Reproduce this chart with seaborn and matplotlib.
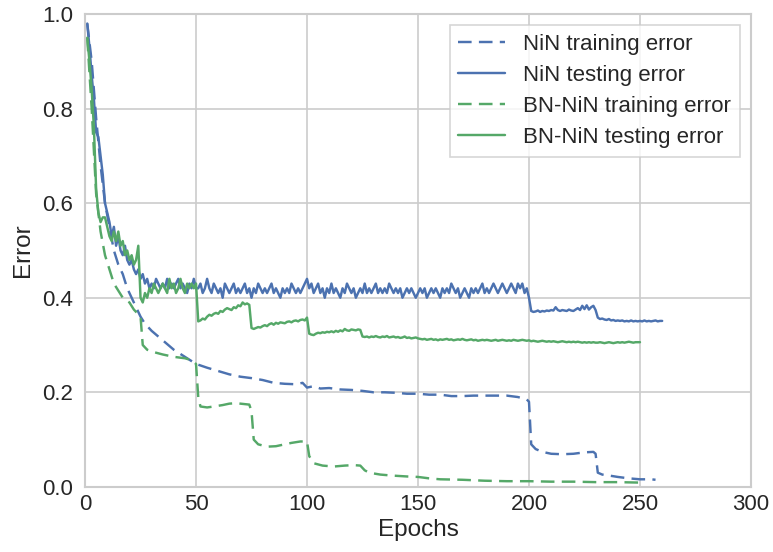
import numpy as np
import pandas as pd
import matplotlib
matplotlib.use("Agg")
import matplotlib.pyplot as plt
import seaborn as sns

# ---- data ----
nin_train_epochs = [1, 3, 5, 7, 9, 11, 13, 15, 17, 19, 21, 23, 25, 27, 30, 35, 40, 45, 50,
                    55, 60, 65, 70, 75, 80, 85, 90, 95, 98, 100, 103, 106, 110, 115, 120,
                    125, 130, 135, 140, 145, 150, 155, 160, 165, 170, 175, 180, 185, 190,
                    195, 199, 200, 201, 203, 206, 210, 215, 220, 225, 229, 230, 231, 233,
                    236, 240, 245, 250, 255, 257]
nin_train_error = [0.98, 0.90, 0.78, 0.68, 0.60, 0.55, 0.50, 0.47, 0.45, 0.42, 0.40, 0.38,
                   0.36, 0.345, 0.33, 0.31, 0.29, 0.275, 0.26, 0.252, 0.245, 0.238, 0.233,
                   0.23, 0.226, 0.22, 0.218, 0.217, 0.22, 0.21, 0.213, 0.208, 0.209, 0.206,
                   0.205, 0.203, 0.20, 0.20, 0.199, 0.197, 0.197, 0.195, 0.195, 0.192,
                   0.192, 0.193, 0.193, 0.193, 0.193, 0.19, 0.185, 0.18, 0.09, 0.08, 0.074,
                   0.07, 0.069, 0.07, 0.073, 0.074, 0.07, 0.03, 0.026, 0.024, 0.021, 0.018,
                   0.016, 0.016, 0.015]

nin_test_error = [
    0.98, 0.93, 0.87, 0.82, 0.75, 0.74, 0.70, 0.66, 0.60, 0.58,
    0.56, 0.53, 0.55, 0.51, 0.53, 0.50, 0.49, 0.51, 0.48, 0.47,
    0.48, 0.46, 0.45, 0.46, 0.44, 0.45, 0.43, 0.44, 0.42, 0.43,
    0.42, 0.44, 0.43, 0.42, 0.43, 0.42, 0.44, 0.42, 0.43, 0.42,
    0.43, 0.44, 0.42, 0.43, 0.42, 0.41, 0.43, 0.42, 0.44, 0.42,
    0.42, 0.43, 0.41, 0.42, 0.44, 0.42, 0.41, 0.43, 0.42, 0.41,
    0.42, 0.40, 0.43, 0.42, 0.41, 0.42, 0.43, 0.41, 0.42, 0.41,
    0.42, 0.43, 0.41, 0.42, 0.40, 0.42, 0.41, 0.43, 0.42, 0.41,
    0.42, 0.41, 0.42, 0.43, 0.41, 0.42, 0.41, 0.40, 0.42, 0.41,
    0.42, 0.41, 0.43, 0.42, 0.41, 0.42, 0.41, 0.42, 0.43, 0.44,
    0.42, 0.43, 0.41, 0.42, 0.43, 0.41, 0.42, 0.40, 0.42, 0.41,
    0.43, 0.41, 0.42, 0.41, 0.40, 0.42, 0.41, 0.43, 0.42, 0.41,
    0.42, 0.40, 0.41, 0.42, 0.41, 0.43, 0.41, 0.42, 0.41, 0.42,
    0.43, 0.41, 0.42, 0.41, 0.42, 0.41, 0.43, 0.42, 0.41, 0.42,
    0.41, 0.42, 0.40, 0.41, 0.42, 0.41, 0.42, 0.41, 0.40, 0.41,
    0.42, 0.41, 0.42, 0.40, 0.41, 0.42, 0.41, 0.42, 0.41, 0.40,
    0.42, 0.41, 0.42, 0.41, 0.43, 0.42, 0.41, 0.42, 0.40, 0.41,
    0.42, 0.41, 0.40, 0.42, 0.41, 0.42, 0.41, 0.42, 0.43, 0.41,
    0.42, 0.41, 0.42, 0.43, 0.42, 0.41, 0.42, 0.43, 0.42, 0.41,
    0.42, 0.43, 0.42, 0.41, 0.43, 0.42, 0.43, 0.41, 0.42, 0.40,
    0.372, 0.370, 0.371, 0.373, 0.370, 0.372, 0.371, 0.373, 0.372, 0.374,
    0.373, 0.380, 0.374, 0.372, 0.374, 0.373, 0.372, 0.375, 0.373, 0.372,
    0.375, 0.378, 0.374, 0.383, 0.376, 0.384, 0.375, 0.380, 0.383, 0.374,
    0.358, 0.355, 0.356, 0.354, 0.353, 0.355, 0.352, 0.353, 0.351, 0.352,
    0.351, 0.352, 0.350, 0.351, 0.350, 0.352, 0.350, 0.351, 0.350, 0.351,
    0.350, 0.352, 0.350, 0.351, 0.350, 0.351, 0.352, 0.350, 0.351, 0.351,
]

bn_train_epochs = [1, 3, 5, 7, 9, 11, 13, 15, 17, 20, 22, 25, 26, 28, 31, 35, 40, 45, 48,
                   50, 51, 52, 55, 58, 62, 65, 68, 72, 74, 75, 76, 78, 82, 86, 90, 93, 97,
                   100, 101, 103, 107, 112, 117, 121, 124, 126, 128, 133, 138, 145, 150,
                   155, 160, 170, 180, 190, 200, 210, 220, 230, 240, 250]
bn_train_error = [0.95, 0.80, 0.62, 0.54, 0.49, 0.46, 0.43, 0.415, 0.40, 0.39, 0.375, 0.36,
                  0.30, 0.29, 0.285, 0.28, 0.275, 0.272, 0.268, 0.26, 0.19, 0.17, 0.168,
                  0.17, 0.173, 0.176, 0.177, 0.175, 0.174, 0.16, 0.10, 0.09, 0.085, 0.086,
                  0.09, 0.093, 0.096, 0.096, 0.065, 0.05, 0.045, 0.043, 0.045, 0.046, 0.045,
                  0.035, 0.03, 0.026, 0.024, 0.022, 0.021, 0.018, 0.016, 0.015, 0.013,
                  0.012, 0.012, 0.011, 0.011, 0.010, 0.010, 0.009]

bn_test_error = [
    0.95, 0.90, 0.84, 0.76, 0.63, 0.58, 0.56, 0.57, 0.57, 0.55,
    0.53, 0.52, 0.54, 0.52, 0.54, 0.51, 0.52, 0.49, 0.50, 0.48,
    0.49, 0.47, 0.48, 0.51, 0.40, 0.39, 0.41, 0.40, 0.42, 0.41,
    0.43, 0.42, 0.41, 0.42, 0.43, 0.42, 0.41, 0.44, 0.42, 0.43,
    0.41, 0.42, 0.44, 0.42, 0.41, 0.43, 0.42, 0.43, 0.42, 0.43,
    0.350, 0.352, 0.356, 0.354, 0.360, 0.364, 0.362, 0.366, 0.368, 0.366,
    0.372, 0.370, 0.375, 0.378, 0.376, 0.374, 0.380, 0.378, 0.384, 0.382,
    0.390, 0.386, 0.388, 0.385, 0.336, 0.334, 0.336, 0.338, 0.337, 0.340,
    0.342, 0.340, 0.344, 0.346, 0.343, 0.347, 0.345, 0.348, 0.347, 0.346,
    0.349, 0.350, 0.348, 0.351, 0.352, 0.350, 0.353, 0.354, 0.352, 0.358,
    0.324, 0.322, 0.321, 0.324, 0.326, 0.325, 0.327, 0.326, 0.328, 0.327,
    0.329, 0.327, 0.330, 0.328, 0.331, 0.329, 0.334, 0.331, 0.330, 0.333,
    0.332, 0.331, 0.333, 0.332, 0.318, 0.317, 0.318, 0.316, 0.318, 0.317,
    0.319, 0.317, 0.316, 0.318, 0.317, 0.319, 0.316, 0.317, 0.318, 0.316,
    0.317, 0.315, 0.316, 0.318, 0.315, 0.316, 0.314, 0.315, 0.316, 0.314,
    0.313, 0.312, 0.313, 0.311, 0.312, 0.313, 0.311, 0.312, 0.310, 0.312,
    0.311, 0.312, 0.313, 0.311, 0.312, 0.310, 0.311, 0.312, 0.311, 0.313,
    0.311, 0.310, 0.311, 0.312, 0.310, 0.311, 0.309, 0.310, 0.311, 0.310,
    0.311, 0.310, 0.309, 0.310, 0.311, 0.309, 0.310, 0.311, 0.310, 0.309,
    0.310, 0.309, 0.311, 0.310, 0.309, 0.310, 0.311, 0.310, 0.309, 0.310,
    0.308, 0.309, 0.308, 0.307, 0.308, 0.309, 0.308, 0.307, 0.308, 0.307,
    0.308, 0.307, 0.306, 0.307, 0.308, 0.307, 0.306, 0.307, 0.306, 0.307,
    0.306, 0.307, 0.306, 0.305, 0.306, 0.305, 0.306, 0.305, 0.306, 0.305,
    0.305, 0.306, 0.305, 0.304, 0.305, 0.306, 0.305, 0.304, 0.305, 0.306,
    0.305, 0.306, 0.305, 0.306, 0.307, 0.306, 0.305, 0.306, 0.306, 0.306,
]

labels = ["NiN training error", "NiN testing error",
          "BN-NiN training error", "BN-NiN testing error"]
x_ticks = [0, 50, 100, 150, 200, 250, 300]
y_ticks = [0.0, 0.2, 0.4, 0.6, 0.8, 1.0]

# ---- style ----
sns.set_theme(style="whitegrid")
plt.rcParams["font.family"] = ["Liberation Sans", "DejaVu Sans"]
plt.rcParams["axes.edgecolor"] = "#cccccc"
plt.rcParams["grid.color"] = "#cccccc"

blue = "#4C72B0"
green = "#55A868"
dash = (0, (5.6, 3.0))
lw = 1.75

fig = plt.figure(figsize=(7.73, 5.52), dpi=100)
ax = fig.add_axes([0.110, 0.118, 0.8615, 0.8565])

nin_test_epochs = list(range(1, len(nin_test_error) + 1))
bn_test_epochs = list(range(1, len(bn_test_error) + 1))

sns.lineplot(x=nin_train_epochs, y=nin_train_error, ax=ax, color=blue, lw=lw,
             linestyle=dash, label=labels[0])
sns.lineplot(x=nin_test_epochs, y=nin_test_error, ax=ax, color=blue, lw=lw,
             label=labels[1])
sns.lineplot(x=bn_train_epochs, y=bn_train_error, ax=ax, color=green, lw=lw,
             linestyle=dash, label=labels[2])
sns.lineplot(x=bn_test_epochs, y=bn_test_error, ax=ax, color=green, lw=lw,
             label=labels[3])

ax.set_xlim(0, 300)
ax.set_ylim(0, 1.0)
ax.set_xticks(x_ticks)
ax.set_yticks(y_ticks)
ax.set_xticklabels([str(t) for t in x_ticks])
ax.set_yticklabels([f"{t:.1f}" for t in y_ticks])
ax.tick_params(axis="both", labelsize=16, colors="#262626", length=0)
ax.tick_params(axis="x", pad=5)
ax.tick_params(axis="y", pad=8.5)
ax.set_xlabel("Epochs", fontsize=17.5, color="#262626", labelpad=3)
ax.set_ylabel("Error", fontsize=17.5, color="#262626", labelpad=6)
for s in ax.spines.values():
    s.set_color("#cccccc")
    s.set_linewidth(1.5)
ax.grid(True, color="#cccccc", linewidth=1.2)

leg = ax.legend(loc="upper right", fontsize=16, frameon=True, handlelength=2.1,
                handletextpad=0.8, labelspacing=0.45, borderpad=0.4,
                borderaxespad=0.0, bbox_to_anchor=(0.983, 0.977), fancybox=False)
leg.get_frame().set_edgecolor("#cccccc")
leg.get_frame().set_linewidth(1.2)
for t in leg.get_texts():
    t.set_color("#262626")

fig.savefig("out.png", dpi=100)
